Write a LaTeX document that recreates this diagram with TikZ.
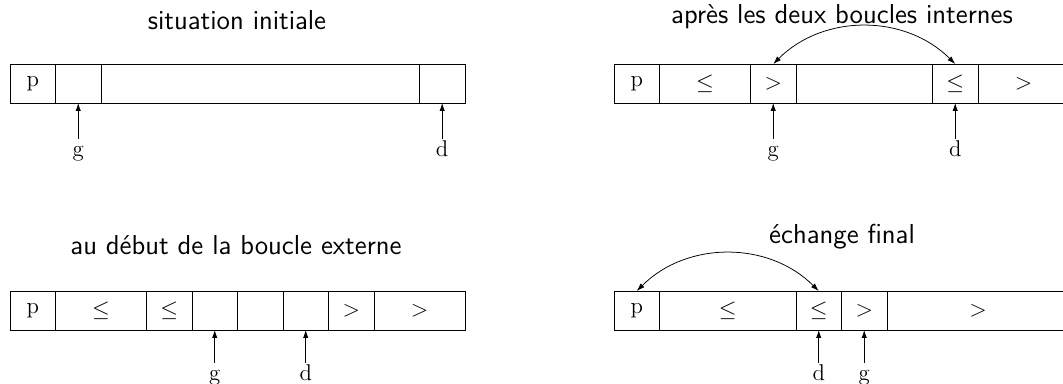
\documentclass[tikz,border=0pt]{standalone}
\usetikzlibrary{arrows.meta}
\begin{document}
\begin{tikzpicture}[x=0.526pt,y=-0.526pt,
  cell/.style={draw, minimum width=#1*23.93pt, minimum height=20.5pt,
    inner sep=0pt, outer sep=0pt, anchor=west, font=\large},
  cell/.default=1,
  title/.style={font=\sffamily\Large},
  ptr/.style={anchor=base, inner sep=1pt, text height=8.3pt, text depth=2.4pt, font=\large},
  ptrarrow/.style={-{Latex[length=4.2pt,width=2.8pt]}},
  swaparc/.style={{Latex[length=4.2pt,width=2.8pt]}-{Latex[length=4.2pt,width=2.8pt]}, bend left=45}]
\useasboundingbox (0,0) rectangle (1063,383);
\clip (0,0) rectangle (1063,383);

% initial state
\node[title] (t1) at (237,20) {situation initiale};
\node[cell] (a1) at (10,83.5) {p};
\node[cell] (a2) at (a1.east) {};
\node[cell=7] (a3) at (a2.east) {};
\node[cell] (a4) at (a3.east) {};
\path (a2.south) ++(0,54) node[ptr] (ag) {g};
\path (a4.south) ++(0,54) node[ptr] (ad) {d};
\draw[ptrarrow] (ag) -- (a2);
\draw[ptrarrow] (ad) -- (a4);

% after the two inner loops
\node[title] (t2) at (842,17) {après les deux boucles internes};
\node[cell] (b1) at (614,83.5) {p};
\node[cell=2] (b2) at (b1.east) {$\leq$};
\node[cell] (b3) at (b2.east) {$>$};
\node[cell=3] (b4) at (b3.east) {};
\node[cell] (b5) at (b4.east) {$\leq$};
\node[cell=2] (b6) at (b5.east) {$>$};
\path (b3.south) ++(0,54) node[ptr] (bg) {g};
\path (b5.south) ++(0,54) node[ptr] (bd) {d};
\draw[ptrarrow] (bg) -- (b3);
\draw[ptrarrow] (bd) -- (b5);
\draw[swaparc] (b3.north) to (b5.north);

% start of the outer loop
\node[title] (t3) at (236,245) {au début de la boucle externe};
\node[cell] (c1) at (10,310.5) {p};
\node[cell=2] (c2) at (c1.east) {$\leq$};
\node[cell] (c3) at (c2.east) {$\leq$};
\node[cell] (c4) at (c3.east) {};
\node[cell] (c5) at (c4.east) {};
\node[cell] (c6) at (c5.east) {};
\node[cell] (c7) at (c6.east) {$>$};
\node[cell=2] (c8) at (c7.east) {$>$};
\path (c4.south) ++(0,51) node[ptr] (cg) {g};
\path (c6.south) ++(0,51) node[ptr] (cd) {d};
\draw[ptrarrow] (cg) -- (c4);
\draw[ptrarrow] (cd) -- (c6);

% final swap
\node[title] (t4) at (842,237) {échange final};
\node[cell] (d1) at (614,310.5) {p};
\node[cell=3] (d2) at (d1.east) {$\leq$};
\node[cell] (d3) at (d2.east) {$\leq$};
\node[cell] (d4) at (d3.east) {$>$};
\node[cell=4] (d5) at (d4.east) {$>$};
\path (d3.south) ++(0,51) node[ptr] (dd) {d};
\path (d4.south) ++(0,51) node[ptr] (dg) {g};
\draw[ptrarrow] (dd) -- (d3);
\draw[ptrarrow] (dg) -- (d4);
\draw[swaparc] (d1.north) to (d3.north);
\end{tikzpicture}
\end{document}
